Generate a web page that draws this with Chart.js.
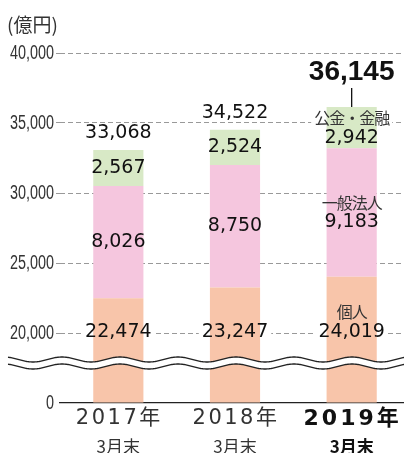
<!DOCTYPE html>
<html>
<head>
<meta charset="utf-8">
<script src="https://cdn.jsdelivr.net/npm/chart.js@4"></script>
<style>
  html, body { margin: 0; padding: 0; background: #fff; overflow: hidden; }
  canvas { display: block; }
</style>
</head>
<body>
<canvas id="deposit_chart" width="412" height="453"></canvas>
<script>
// deposits by holder, end of March each year (億円)
const categories = ["2017年", "2018年", "2019年"];
const category_sub = ["3月末", "3月末", "3月末"];
const series_names = ["個人", "一般法人", "公金・金融"];
const personal = [22474, 23247, 24019];
const corporate = [8026, 8750, 9183];
const public_finance = [2567, 2524, 2942];
const totals = [33068, 34522, 36145];
const y_ticks = [0, 20000, 25000, 30000, 35000, 40000];

const colors = ["#f8c5aa", "#f5c6de", "#d8e9c6"];

// axis is cut between 0 and 20,000: that span is squeezed into one 5,000 band
const BREAK_AT = 20000;
const BAND = 5000;
function squeeze(v) { return v < BREAK_AT ? v * BAND / BREAK_AT : v - BREAK_AT + BAND; }
function unsqueeze(s) { return s < BAND ? s * BREAK_AT / BAND : s + BREAK_AT - BAND; }

class BrokenLinearScale extends Chart.LinearScale {
  static id = "brokenLinear";
  buildTicks() {
    return y_ticks.map(v => ({ value: v }));
  }
  getPixelForValue(value) {
    const lo = squeeze(this.min), hi = squeeze(this.max);
    return this.getPixelForDecimal((squeeze(value) - lo) / (hi - lo));
  }
  getValueForPixel(pixel) {
    const lo = squeeze(this.min), hi = squeeze(this.max);
    return unsqueeze(lo + this.getDecimalForPixel(pixel) * (hi - lo));
  }
}
Chart.register(BrokenLinearScale);

const NUM_FONT = '"DejaVu Sans", "Noto Sans CJK JP", sans-serif';
const JP_FONT = '"Noto Sans CJK JP", sans-serif';
const fmt = v => v.toLocaleString("en-US");

// every text label on the bars, so the grid can be cleared behind them
function labelSpots(chart) {
  const y = chart.scales.y;
  const spots = [];
  for (let i = 0; i < categories.length; i++) {
    const last = i === categories.length - 1;
    const bars = [0, 1, 2].map(d => chart.getDatasetMeta(d).data[i]);
    const x = bars[0].x;
    const valueFont = "19px " + NUM_FONT;
    const nameFont = "16px " + JP_FONT;

    // bottom segment: value sits on the 20,000 line above the cut
    const by = y.getPixelForValue(BREAK_AT) - 1;
    spots.push({ text: fmt(personal[i]), x, y: by, font: valueFont, color: "#111", h: 17 });
    if (last) spots.push({ text: series_names[0], x, y: by - 20, font: nameFont, color: "#333", h: 17, sp: -1 });

    [corporate, public_finance].forEach((arr, k) => {
      const b = bars[k + 1];
      const c = (b.y + b.base) / 2;
      if (last) {
        spots.push({ text: fmt(arr[i]), x, y: c + 10, font: valueFont, color: "#111", h: 17 });
        spots.push({ text: series_names[k + 1], x, y: c - 10, font: nameFont, color: "#333", h: 17, sp: -1 });
      } else {
        spots.push({ text: fmt(arr[i]), x, y: c, font: valueFont, color: "#111", h: 17 });
      }
    });

    const top = bars[2].y;
    if (last) {
      spots.push({ text: fmt(totals[i]), x, y: top - 35, font: "bold 28px " + '"Liberation Sans", Arial, sans-serif', color: "#111", h: 24, lead: [top - 19, top] });
    } else {
      spots.push({ text: fmt(totals[i]), x, y: top - 17, font: valueFont, color: "#111", h: 17 });
    }
  }
  return spots;
}

const clearBehindLabels = {
  id: "clearBehindLabels",
  beforeDatasetsDraw(chart) {
    const ctx = chart.ctx;
    ctx.save();
    ctx.fillStyle = "#fff";
    labelSpots(chart).forEach(s => {
      ctx.font = s.font;
      ctx.letterSpacing = (s.sp || 0) + "px";
      const w = ctx.measureText(s.text).width;
      ctx.fillRect(s.x - w / 2 - 3, s.y - s.h / 2, w + 6, s.h);
    });
    ctx.restore();
  }
};

const axisCut = {
  id: "axisCut",
  afterDatasetsDraw(chart) {
    const ctx = chart.ctx;
    const mid = chart.scales.y.bottom - 40;
    const x0 = 8, x1 = chart.width;
    const wave = (x, off) => mid + off - 2.5 * Math.sin(2 * Math.PI * (x - 47.5) / 58);
    ctx.save();
    ctx.beginPath();
    for (let x = x0; x <= x1; x++) ctx.lineTo(x, wave(x, -3.5));
    for (let x = x1; x >= x0; x--) ctx.lineTo(x, wave(x, 3.5));
    ctx.closePath();
    ctx.fillStyle = "#fff";
    ctx.fill();
    ctx.strokeStyle = "#222";
    ctx.lineWidth = 1.3;
    [-3.5, 3.5].forEach(off => {
      ctx.beginPath();
      for (let x = x0; x <= x1; x++) ctx.lineTo(x, wave(x, off));
      ctx.stroke();
    });
    ctx.restore();
  }
};

const barLabels = {
  id: "barLabels",
  afterDraw(chart) {
    const ctx = chart.ctx;
    ctx.save();
    ctx.textAlign = "center";
    ctx.textBaseline = "middle";
    labelSpots(chart).forEach(s => {
      ctx.font = s.font;
      ctx.letterSpacing = (s.sp || 0) + "px";
      ctx.fillStyle = s.color;
      ctx.fillText(s.text, s.x, s.y);
      if (s.lead) {
        ctx.strokeStyle = "#111";
        ctx.lineWidth = 1.3;
        ctx.beginPath();
        ctx.moveTo(s.x, s.lead[0]);
        ctx.lineTo(s.x, s.lead[1]);
        ctx.stroke();
      }
    });
    ctx.letterSpacing = "0px";

    // y tick labels in a condensed face, right-aligned against the tick marks
    const ys = chart.scales.y;
    ctx.fillStyle = "#333";
    ctx.textAlign = "right";
    ctx.font = '20px "Liberation Sans", Arial, sans-serif';
    ys.ticks.forEach(t => {
      const py = ys.getPixelForValue(t.value);
      ctx.save();
      ctx.translate(54, py);
      ctx.scale(0.72, 1);
      ctx.fillText(fmt(t.value), 0, 0);
      ctx.restore();
    });

    // unit and category labels
    ctx.textAlign = "left";
    ctx.font = "19px " + JP_FONT;
    ctx.fillText("(億円)", 7, 25);

    const xs = chart.scales.x;
    ctx.textAlign = "center";
    categories.forEach((c, i) => {
      const x = xs.getPixelForValue(i);
      const bold = i === categories.length - 1;
      ctx.fillStyle = bold ? "#111" : "#333";
      ctx.letterSpacing = bold ? "3px" : "2.5px";
      ctx.font = (bold ? "bold 22px " : "21px ") + NUM_FONT;
      ctx.fillText(c, x + 1, 419);
      ctx.letterSpacing = "0px";
      ctx.font = (bold ? "bold 17px " : "17px ") + JP_FONT;
      ctx.fillText(category_sub[i], x, 447);
    });
    ctx.restore();
  }
};

const canvas = document.getElementById("deposit_chart");
const depositChart = new Chart(canvas, {
  type: "bar",
  data: {
    labels: categories,
    datasets: [
      { label: series_names[0], data: personal, backgroundColor: colors[0] },
      { label: series_names[1], data: corporate, backgroundColor: colors[1] },
      { label: series_names[2], data: public_finance, backgroundColor: colors[2] }
    ]
  },
  options: {
    responsive: false,
    animation: false,
    layout: { padding: { top: 53, bottom: 50, left: 0, right: 2 } },
    datasets: { bar: { categoryPercentage: 1, barPercentage: 0.43, borderWidth: 0 } },
    plugins: { legend: { display: false }, tooltip: { enabled: false } },
    scales: {
      x: {
        stacked: true,
        grid: { display: false, drawTicks: false },
        ticks: { display: false },
        border: { display: true, color: "#222", width: 1.3 },
        afterFit: s => { s.height = 0; }
      },
      y: {
        type: "brokenLinear",
        stacked: true,
        min: 0,
        max: 40000,
        border: { display: false, dash: [5, 3] },
        grid: {
          color: c => (c.tick && c.tick.value === 0 ? "rgba(0,0,0,0)" : "#999"),
          lineWidth: 1,
          tickLength: 4,
          tickBorderDash: [5, 3]
        },
        ticks: { display: false },
        afterFit: s => { s.width = 60; }
      }
    }
  },
  plugins: [clearBehindLabels, axisCut, barLabels]
});
</script>
</body>
</html>
